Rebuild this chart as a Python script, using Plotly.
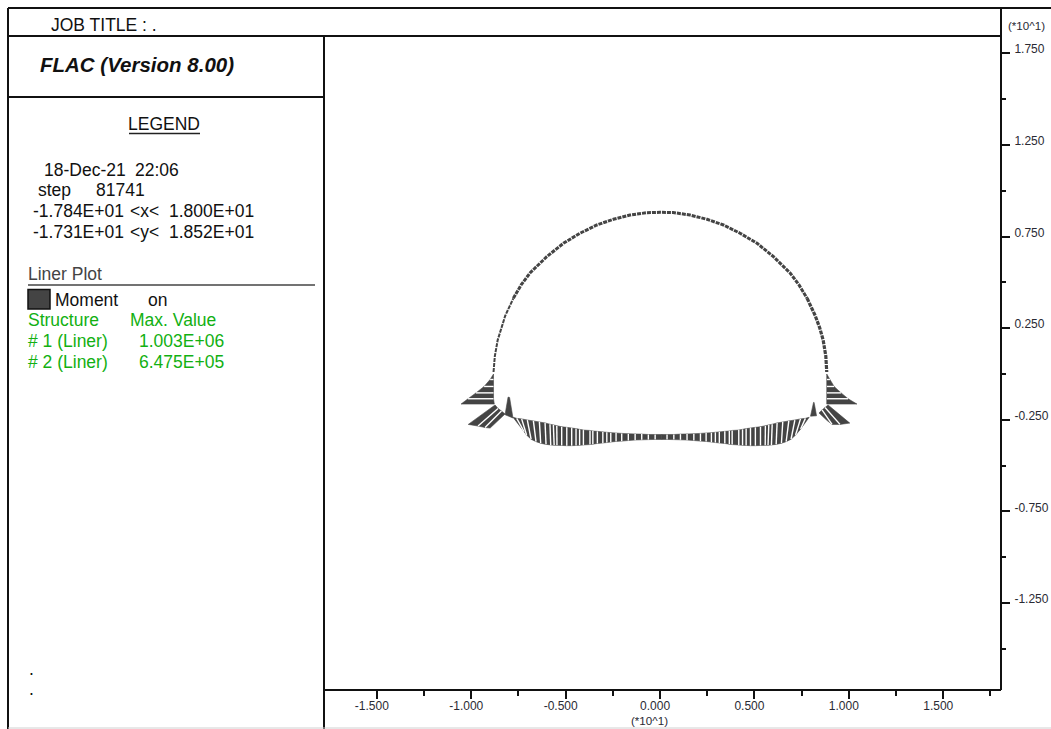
import plotly.graph_objects as go

W, H = 1051, 729
INK = "#444444"
GREEN = "#12b012"

# axes (units of 10^1 m)
x_major = [-1.5, -1.0, -0.5, 0.0, 0.5, 1.0, 1.5]
x_major_text = ["-1.500", "-1.000", "-0.500", "0.000", "0.500", "1.000", "1.500"]
x_minor = [-1.25, -0.75, -0.25, 0.25, 0.75, 1.25, 1.75]
y_major = [1.75, 1.25, 0.75, 0.25, -0.25, -0.75, -1.25]
y_major_text = ["1.750", "1.250", "0.750", "0.250", "-0.250", "-0.750", "-1.250"]
y_minor = [1.5, 1.0, 0.5, 0.0, -0.5, -1.0, -1.5]

# arch liner centre line
arch_left_low_x = [-0.882, -0.875, -0.860, -0.842, -0.820, -0.777]
arch_left_low_y = [0.011, 0.098, 0.185, 0.251, 0.318, 0.413]
arch_top_x = [-0.777, -0.736, -0.689, -0.600, -0.512, -0.424, -0.335, -0.247, -0.159, -0.070, 0.0,
              0.069, 0.159, 0.249, 0.336, 0.424, 0.514, 0.601, 0.689, 0.736, 0.779]
arch_top_y = [0.413, 0.486, 0.551, 0.640, 0.713, 0.768, 0.813, 0.844, 0.867, 0.880, 0.882,
              0.881, 0.867, 0.844, 0.813, 0.768, 0.713, 0.640, 0.551, 0.486, 0.413]
arch_right_low_x = [0.779, 0.822, 0.846, 0.864, 0.878, 0.883]
arch_right_low_y = [0.413, 0.318, 0.251, 0.185, 0.098, 0.011]

# moment diagram: liner node (in) and offset node (out)
wall_left_in_x = [-0.882, -0.882, -0.882, -0.882, -0.882, -0.878]
wall_left_out_x = [-0.885, -0.900, -0.932, -0.975, -1.017, -1.054]
wall_left_y = [0.0, -0.030, -0.068, -0.103, -0.135, -0.164]
wall_right_in_x = [0.883, 0.883, 0.883, 0.883, 0.883, 0.883]
wall_right_out_x = [0.887, 0.900, 0.922, 0.959, 0.996, 1.043]
wall_right_y = [0.0, -0.030, -0.068, -0.103, -0.135, -0.164]

corner_left_in_x = [-0.874, -0.858, -0.840, -0.821]
corner_left_in_y = [-0.169, -0.188, -0.202, -0.218]
corner_left_out_x = [-1.016, -0.964, -0.927, -0.900]
corner_left_out_y = [-0.275, -0.284, -0.292, -0.295]
corner_right_in_x = [0.890, 0.874, 0.858, 0.842]
corner_right_in_y = [-0.169, -0.183, -0.196, -0.213]
corner_right_out_x = [1.005, 0.953, 0.911, 0.885]
corner_right_out_y = [-0.268, -0.275, -0.275, -0.254]

spike_left_in_x = [-0.821, -0.779]
spike_left_in_y = [-0.222, -0.240]
spike_left_out_x = [-0.805, -0.797]
spike_left_out_y = [-0.126, -0.128]
spike_right_in_x = [0.797, 0.829]
spike_right_in_y = [-0.230, -0.228]
spike_right_out_x = [0.813, 0.816]
spike_right_out_y = [-0.155, -0.155]

floor_left_top_x = [-0.779, -0.759, -0.733, -0.703, -0.671, -0.639, -0.609, -0.583, -0.565, -0.547,
                    -0.521, -0.494, -0.468, -0.445, -0.426, -0.406, -0.371, -0.356, -0.332, -0.303,
                    -0.282, -0.261, -0.233, -0.203, -0.168, -0.132, -0.097, -0.062, -0.026, 0.009]
floor_left_top_y = [-0.236, -0.242, -0.245, -0.251, -0.256, -0.262, -0.267, -0.274, -0.278, -0.282,
                    -0.288, -0.291, -0.295, -0.298, -0.302, -0.306, -0.308, -0.311, -0.313, -0.316,
                    -0.318, -0.320, -0.322, -0.324, -0.326, -0.327, -0.328, -0.330, -0.330, -0.330]
floor_left_bot_x = [-0.779, -0.720, -0.707, -0.683, -0.657, -0.632, -0.604, -0.579, -0.561, -0.546,
                    -0.521, -0.494, -0.468, -0.445, -0.426, -0.406, -0.371, -0.356, -0.332, -0.303,
                    -0.282, -0.261, -0.233, -0.203, -0.168, -0.132, -0.097, -0.062, -0.026, 0.009]
floor_left_bot_y = [-0.236, -0.315, -0.333, -0.356, -0.369, -0.378, -0.384, -0.387, -0.389, -0.389,
                    -0.390, -0.391, -0.391, -0.390, -0.389, -0.387, -0.385, -0.383, -0.379, -0.376,
                    -0.374, -0.371, -0.368, -0.366, -0.363, -0.360, -0.359, -0.358, -0.357, -0.357]

floor_right_top_x = [0.009, 0.037, 0.073, 0.108, 0.143, 0.179, 0.214, 0.244, 0.272, 0.293,
                     0.314, 0.343, 0.367, 0.382, 0.417, 0.437, 0.456, 0.479, 0.505, 0.532,
                     0.558, 0.576, 0.594, 0.620, 0.650, 0.682, 0.714, 0.744, 0.770, 0.790]
floor_right_top_y = [-0.330, -0.330, -0.330, -0.328, -0.327, -0.326, -0.324, -0.322, -0.320, -0.318,
                     -0.316, -0.313, -0.311, -0.308, -0.306, -0.302, -0.298, -0.295, -0.291, -0.288,
                     -0.282, -0.278, -0.274, -0.267, -0.262, -0.256, -0.251, -0.245, -0.242, -0.236]
floor_right_bot_x = [0.009, 0.037, 0.073, 0.108, 0.143, 0.179, 0.214, 0.244, 0.272, 0.293,
                     0.314, 0.343, 0.367, 0.382, 0.417, 0.437, 0.456, 0.479, 0.505, 0.532,
                     0.557, 0.572, 0.590, 0.615, 0.643, 0.668, 0.694, 0.718, 0.745, 0.790]
floor_right_bot_y = [-0.357, -0.357, -0.358, -0.359, -0.360, -0.363, -0.366, -0.368, -0.371, -0.374,
                     -0.376, -0.379, -0.383, -0.385, -0.387, -0.389, -0.390, -0.391, -0.391, -0.390,
                     -0.389, -0.389, -0.387, -0.384, -0.378, -0.369, -0.356, -0.333, -0.300, -0.236]

# legend text
stats = ["18-Dec-21", "22:06", "step", "81741", "-1.784E+01", "&lt;x&lt;", "1.800E+01",
         "-1.731E+01", "&lt;y&lt;", "1.852E+01"]


def add_bands(in_x, in_y, out_x, out_y):
    xs, ys, sx, sy = [], [], [], []
    for i in range(len(in_x) - 1):
        xs += [in_x[i], in_x[i + 1], out_x[i + 1], out_x[i], in_x[i], None]
        ys += [in_y[i], in_y[i + 1], out_y[i + 1], out_y[i], in_y[i], None]
        if i > 0:
            sx += [in_x[i], out_x[i], None]
            sy += [in_y[i], out_y[i], None]
    fig.add_trace(go.Scatter(x=xs, y=ys, mode="lines", fill="toself", fillcolor=INK,
                             line=dict(color=INK, width=0.6), hoverinfo="skip", showlegend=False))
    fig.add_trace(go.Scatter(x=sx, y=sy, mode="lines", line=dict(color="white", width=1.4),
                             hoverinfo="skip", showlegend=False))


def arch_trace(xs, ys, width):
    return go.Scatter(x=xs, y=ys, mode="lines", hoverinfo="skip", showlegend=False,
                      line=dict(color=INK, width=width, dash="4px,1px"))


fig = go.Figure()
fig.add_trace(arch_trace(arch_left_low_x, arch_left_low_y, 2))
fig.add_trace(arch_trace(arch_top_x, arch_top_y, 3))
fig.add_trace(arch_trace(arch_right_low_x, arch_right_low_y, 3.2))
add_bands(wall_left_in_x, wall_left_y, wall_left_out_x, wall_left_y)
add_bands(wall_right_in_x, wall_right_y, wall_right_out_x, wall_right_y)
add_bands(corner_left_in_x, corner_left_in_y, corner_left_out_x, corner_left_out_y)
add_bands(corner_right_in_x, corner_right_in_y, corner_right_out_x, corner_right_out_y)
add_bands(spike_left_in_x, spike_left_in_y, spike_left_out_x, spike_left_out_y)
add_bands(spike_right_in_x, spike_right_in_y, spike_right_out_x, spike_right_out_y)
add_bands(floor_left_top_x, floor_left_top_y, floor_left_bot_x, floor_left_bot_y)
add_bands(floor_right_top_x, floor_right_top_y, floor_right_bot_x, floor_right_bot_y)


def px(v):
    return v / W


def py(v):
    return 1 - v / H


def txt(s, x, y, size=17.5, color="#111111", **kw):
    fig.add_annotation(text=s, x=px(x - 2), y=py(y), xref="paper", yref="paper", showarrow=False,
                       xanchor=kw.pop("xanchor", "left"), yanchor="middle",
                       font=dict(family="Liberation Sans", size=size, color=color), **kw)


def rule(x0, y0, x1, y1, color="#111111", width=2):
    fig.add_shape(type="line", xref="paper", yref="paper", x0=px(x0), y0=py(y0), x1=px(x1), y1=py(y1),
                  line=dict(color=color, width=width))


rule(8, 8, 1051, 8)
rule(8, 8, 8, 729)
rule(8, 36, 1001, 36)
rule(8, 97, 324, 97)
rule(324, 36, 324, 729)
rule(1001, 8, 1001, 690)
rule(324, 690, 1001, 690)
rule(8, 728, 1051, 728, "#d0d0d0", 1)
rule(129, 133.5, 200, 133.5, "#222222", 1.5)
rule(28, 285, 315, 285, INK, 1.5)
fig.add_shape(type="rect", xref="paper", yref="paper", x0=px(28), y0=py(289.5), x1=px(50), y1=py(309),
              fillcolor=INK, line=dict(color="#111111", width=1.5))

txt("JOB TITLE : .", 51, 24.5)
txt("<b><i>FLAC (Version 8.00)</i></b>", 40, 65, size=20.5)
txt("LEGEND", 128, 124.5)
txt(stats[0], 44, 170)
txt(stats[1], 135, 170)
txt(stats[2], 38, 190)
txt(stats[3], 96, 190)
txt(stats[4], 33, 211)
txt(stats[5], 130, 211)
txt(stats[6], 169, 211)
txt(stats[7], 33, 232)
txt(stats[8], 130, 232)
txt(stats[9], 169, 232)
txt("Liner Plot", 28, 274, color=INK)
txt("Moment", 55, 300)
txt("on", 148, 300)
txt("Structure", 28, 320, color=GREEN)
txt("Max. Value", 130, 320, color=GREEN)
txt("# 1 (Liner)", 28, 341, color=GREEN)
txt("1.003E+06", 139, 341, color=GREEN)
txt("# 2 (Liner)", 28, 362, color=GREEN)
txt("6.475E+05", 139, 362, color=GREEN)
txt(".", 29, 669)
txt(".", 29, 689)
txt("(*10^1)", 1008, 26, size=11.6, color="#2a2a33")
txt("(*10^1)", 631, 720, size=11.6, color="#2a2a33")

tick_font = dict(family="Liberation Sans", size=12, color="#2a2a33")
fig.update_layout(
    width=W, height=H, autosize=False, margin=dict(l=0, r=0, t=0, b=0),
    paper_bgcolor="white", plot_bgcolor="white", showlegend=False, hovermode=False,
    xaxis=dict(domain=[324 / W, 1001 / W], range=[-1.780, 1.806], showgrid=False, zeroline=False,
               tickmode="array", tickvals=x_major, ticktext=x_major_text, ticks="outside",
               ticklen=8, tickwidth=1.5, tickcolor="#111111", tickfont=tick_font, ticklabelshift=-5,
               ticklabelstandoff=-3,
               minor=dict(tickmode="array", tickvals=x_minor, ticks="outside", ticklen=5, tickwidth=1.5,
                          tickcolor="#111111", showgrid=False),
               showline=False),
    yaxis=dict(domain=[(H - 690) / H, (H - 36) / H], range=[-1.724, 1.844], side="right", showgrid=False,
               zeroline=False, tickmode="array", tickvals=y_major, ticktext=y_major_text, ticks="outside",
               ticklen=8, tickwidth=1.5, tickcolor="#111111", tickfont=tick_font, ticklabelshift=-4,
               ticklabelstandoff=2,
               minor=dict(tickmode="array", tickvals=y_minor, ticks="outside", ticklen=4, tickwidth=1.5,
                          tickcolor="#111111", showgrid=False),
               showline=False),
)

fig.write_html("out.html", config=dict(displayModeBar=False),
               post_script="document.body.style.margin='0';window.dispatchEvent(new Event('resize'));")
